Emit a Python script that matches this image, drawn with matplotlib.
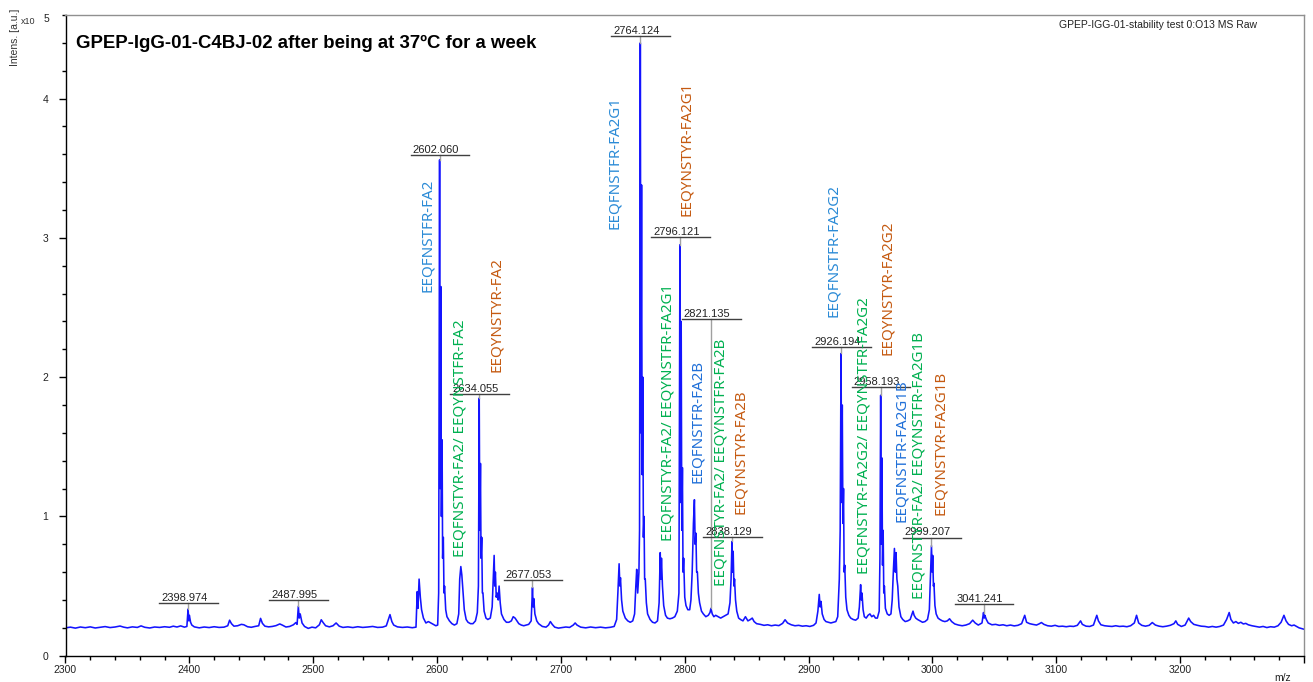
import matplotlib
matplotlib.use("Agg")
import matplotlib.pyplot as plt
from matplotlib.ticker import MultipleLocator, FixedLocator
import numpy as np

# ---------------- data (intensity in units of 1e5 a.u.) ----------------
mz = [
    2300, 2304, 2308, 2312, 2316, 2320, 2324, 2328, 2332, 2336, 2340, 2344, 2347, 2350, 2354, 2358,
    2361, 2364, 2368, 2372, 2376, 2380, 2384, 2387, 2390, 2393, 2396, 2398, 2398.974, 2399.6, 2400,
    2401, 2402, 2404, 2408, 2412, 2416, 2420, 2424, 2428, 2431, 2432.5, 2434, 2436, 2439, 2442, 2444,
    2447, 2450, 2453, 2456, 2457.5, 2459, 2461, 2464, 2467, 2470, 2473, 2475, 2478, 2481, 2484, 2486,
    2487, 2487.995, 2488.7, 2489.5, 2491, 2493, 2496, 2499, 2502, 2505, 2506.5, 2508, 2510, 2513,
    2516, 2518.5, 2521, 2524, 2528, 2532, 2536, 2540, 2544, 2548, 2552, 2556, 2559, 2562, 2563.5,
    2565, 2568, 2572, 2576, 2580, 2583, 2584, 2584.6, 2585.5, 2586.5, 2587.5, 2589, 2591, 2593, 2595,
    2597, 2599, 2600.5, 2601.3, 2602.06, 2602.5, 2603.06, 2603.5, 2604.06, 2604.5, 2605.06, 2605.6,
    2606.06, 2607, 2608, 2610, 2612, 2614, 2616, 2617.5, 2618.3, 2619.2, 2620, 2621, 2622, 2623.5,
    2625, 2627, 2629, 2631, 2632.5, 2633.4, 2634.055, 2634.5, 2635.06, 2635.5, 2636.06, 2636.6,
    2637.06, 2638, 2639.5, 2641, 2643, 2644.5, 2645.4, 2646.1, 2646.6, 2647.1, 2647.8, 2648.5, 2649.4,
    2650.1, 2651, 2652, 2654, 2656, 2658, 2660, 2661.5, 2663, 2664.5, 2666, 2668, 2670, 2672, 2674,
    2676, 2677.053, 2677.6, 2678.1, 2679, 2680.5, 2682, 2685, 2688, 2690, 2691.5, 2693, 2695, 2698,
    2701, 2704, 2707, 2710, 2711.5, 2713, 2716, 2720, 2724, 2728, 2732, 2736, 2740, 2743, 2745, 2746,
    2747, 2747.6, 2748.1, 2749, 2750, 2752, 2754, 2756, 2758, 2759.5, 2760.5, 2761.2, 2762, 2763,
    2763.5, 2764.124, 2764.6, 2765.12, 2765.6, 2766.12, 2766.6, 2767.12, 2767.6, 2768.12, 2769, 2770,
    2772, 2774, 2776, 2778, 2779.3, 2780.2, 2780.7, 2781.2, 2782, 2783, 2784.5, 2786, 2788, 2790,
    2792, 2794, 2795.3, 2796.121, 2796.6, 2797.12, 2797.6, 2798.12, 2798.6, 2799.12, 2800, 2801,
    2802.5, 2804, 2805, 2806, 2807, 2807.8, 2808.4, 2809, 2809.6, 2810.2, 2811, 2812, 2813.5, 2815,
    2817, 2819, 2820.4, 2821.135, 2822.2, 2823.5, 2825, 2827, 2829, 2831, 2833, 2835, 2836.5, 2837.4,
    2838.129, 2838.6, 2839.1, 2839.7, 2840.2, 2841, 2842, 2843.5, 2845, 2847, 2849, 2851, 2853,
    2854.5, 2856, 2858, 2861, 2864, 2867, 2870, 2873, 2876, 2879, 2881, 2883, 2886, 2889, 2892, 2895,
    2898, 2901, 2904, 2906, 2907.5, 2908.6, 2909.3, 2910, 2911, 2912.5, 2914, 2916, 2918, 2920, 2922,
    2923.5, 2924.8, 2925.5, 2926.194, 2926.7, 2927.19, 2927.7, 2928.19, 2928.7, 2929.19, 2930, 2931,
    2932.5, 2934, 2936, 2938, 2940, 2941, 2942, 2942.6, 2943.1, 2944, 2945, 2946.5, 2948, 2949.5,
    2951, 2952.5, 2954, 2955.5, 2957, 2957.6, 2958.193, 2958.7, 2959.19, 2959.7, 2960.19, 2960.7,
    2961.19, 2962, 2963.5, 2965, 2966.5, 2967.5, 2968.5, 2969.3, 2970, 2970.6, 2971.3, 2972, 2973,
    2974.5, 2976, 2978, 2980, 2982, 2983.5, 2984.3, 2985.2, 2986.5, 2988, 2990, 2992, 2994, 2996,
    2997.5, 2998.5, 2999.207, 2999.8, 3000.2, 3000.8, 3001.2, 3002, 3003, 3004.5, 3006, 3008, 3010,
    3012, 3013.8, 3015.5, 3018, 3021, 3024, 3027, 3030, 3032.5, 3034.5, 3037, 3040, 3040.6, 3041.241,
    3041.8, 3042.3, 3043.5, 3045, 3048, 3051, 3054, 3057, 3060, 3063, 3066, 3069, 3072, 3074.5, 3076,
    3078.5, 3081, 3084, 3086, 3088, 3090, 3093, 3096, 3099, 3102, 3105, 3108, 3111, 3114, 3117,
    3119.6, 3121, 3124, 3127, 3130, 3132.7, 3134, 3136, 3139, 3142, 3145, 3148, 3151, 3154, 3157,
    3160, 3163, 3164.8, 3166.5, 3169, 3172, 3175, 3177.5, 3180, 3183, 3186, 3189, 3192, 3195, 3196.5,
    3198, 3201, 3204, 3206.9, 3208.5, 3211, 3214, 3217, 3220, 3223, 3226, 3229, 3232, 3235, 3237.5,
    3239.6, 3241, 3243, 3245, 3247, 3249, 3251, 3253, 3255, 3258, 3261, 3264, 3267, 3270, 3273, 3276,
    3279, 3281.5, 3283.8, 3285.5, 3287.5, 3290, 3292, 3294, 3296, 3298, 3300,
]
intensity = [
    0.200, 0.205, 0.198, 0.206, 0.201, 0.207, 0.199, 0.204, 0.209, 0.202, 0.206, 0.213, 0.205, 0.200, 0.207, 0.203,
    0.214, 0.204, 0.199, 0.206, 0.203, 0.208, 0.204, 0.212, 0.206, 0.214, 0.205, 0.210, 0.335, 0.250, 0.290,
    0.240, 0.220, 0.207, 0.200, 0.206, 0.202, 0.208, 0.203, 0.205, 0.215, 0.255, 0.230, 0.212, 0.215, 0.225, 0.222,
    0.208, 0.204, 0.210, 0.215, 0.268, 0.232, 0.212, 0.207, 0.210, 0.216, 0.228, 0.220, 0.206, 0.210, 0.222, 0.238,
    0.225, 0.355, 0.270, 0.300, 0.235, 0.210, 0.196, 0.205, 0.200, 0.222, 0.258, 0.238, 0.215, 0.207,
    0.215, 0.235, 0.212, 0.203, 0.207, 0.202, 0.208, 0.203, 0.206, 0.210, 0.203, 0.205, 0.214, 0.295, 0.245,
    0.220, 0.207, 0.203, 0.206, 0.201, 0.205, 0.460, 0.340, 0.550, 0.420, 0.330, 0.270, 0.235, 0.245, 0.235,
    0.225, 0.215, 0.220, 0.450, 3.560, 1.200, 2.650, 1.000, 1.550, 0.700, 0.850, 0.450,
    0.500, 0.330, 0.280, 0.250, 0.230, 0.220, 0.230, 0.300, 0.550, 0.640, 0.580, 0.450, 0.330, 0.260,
    0.240, 0.230, 0.230, 0.250, 0.310, 0.500, 1.850, 0.900, 1.380, 0.700, 0.850, 0.450,
    0.450, 0.320, 0.270, 0.260, 0.270, 0.350, 0.550, 0.720, 0.500, 0.600, 0.420, 0.450, 0.400,
    0.500, 0.380, 0.300, 0.260, 0.240, 0.240, 0.250, 0.280, 0.270, 0.250, 0.230, 0.220, 0.215, 0.220, 0.225,
    0.250, 0.490, 0.350, 0.410, 0.300, 0.250, 0.230, 0.210, 0.205, 0.220, 0.245, 0.225, 0.205, 0.198,
    0.202, 0.206, 0.203, 0.220, 0.235, 0.220, 0.205, 0.200, 0.206, 0.201, 0.205, 0.200, 0.204, 0.210, 0.260, 0.450,
    0.660, 0.500, 0.560, 0.400, 0.320, 0.270, 0.250, 0.240, 0.250, 0.300, 0.500, 0.620, 0.450, 0.600,
    0.900, 4.400, 1.600, 3.380, 1.300, 2.000, 0.850, 1.000, 0.550, 0.550, 0.380, 0.300,
    0.260, 0.240, 0.235, 0.250, 0.380, 0.740, 0.550, 0.700, 0.500, 0.360, 0.290, 0.270, 0.265, 0.270,
    0.280, 0.320, 0.450, 2.950, 1.100, 2.400, 0.900, 1.350, 0.600, 0.700, 0.420, 0.360,
    0.330, 0.330, 0.400, 0.600, 0.950, 1.120, 0.800, 0.880, 0.600, 0.600, 0.450, 0.380, 0.320, 0.300,
    0.280, 0.290, 0.310, 0.340, 0.300, 0.280, 0.290, 0.280, 0.270, 0.280, 0.290, 0.300, 0.380, 0.550,
    0.820, 0.600, 0.750, 0.500, 0.550, 0.400, 0.320, 0.270, 0.260, 0.250, 0.280, 0.250, 0.260,
    0.270, 0.245, 0.230, 0.225, 0.218, 0.222, 0.215, 0.220, 0.216, 0.232, 0.258, 0.235, 0.222, 0.215, 0.218, 0.212,
    0.215, 0.210, 0.218, 0.235, 0.320, 0.440, 0.350, 0.390, 0.300, 0.260, 0.245, 0.240, 0.235, 0.240, 0.245,
    0.280, 0.550, 0.900, 2.170, 1.100, 1.800, 0.950, 1.200, 0.600, 0.650, 0.420, 0.330,
    0.290, 0.270, 0.260, 0.255, 0.270, 0.350, 0.510, 0.400, 0.450, 0.330, 0.280, 0.270, 0.290, 0.300,
    0.280, 0.290, 0.270, 0.270, 0.320, 0.700, 1.870, 0.800, 1.420, 0.650, 0.900, 0.450,
    0.500, 0.340, 0.300, 0.290, 0.300, 0.400, 0.620, 0.770, 0.600, 0.740, 0.550, 0.500, 0.350,
    0.280, 0.260, 0.245, 0.250, 0.260, 0.300, 0.320, 0.290, 0.270, 0.260, 0.250, 0.240, 0.245, 0.260,
    0.330, 0.600, 0.790, 0.600, 0.720, 0.500, 0.520, 0.360, 0.300, 0.270, 0.260, 0.250, 0.245,
    0.250, 0.265, 0.245, 0.228, 0.220, 0.215, 0.220, 0.230, 0.255, 0.235, 0.220, 0.235, 0.270, 0.310,
    0.270, 0.290, 0.260, 0.235, 0.222, 0.225, 0.218, 0.222, 0.215, 0.220, 0.214, 0.218, 0.230, 0.290, 0.240,
    0.230, 0.225, 0.220, 0.228, 0.238, 0.225, 0.215, 0.212, 0.218, 0.210, 0.212, 0.208, 0.212, 0.210, 0.218,
    0.250, 0.225, 0.212, 0.210, 0.220, 0.290, 0.250, 0.222, 0.215, 0.212, 0.210, 0.215, 0.210, 0.212, 0.208,
    0.215, 0.235, 0.290, 0.235, 0.218, 0.212, 0.218, 0.238, 0.220, 0.212, 0.208, 0.212, 0.218, 0.230, 0.250,
    0.225, 0.210, 0.220, 0.270, 0.245, 0.225, 0.218, 0.212, 0.210, 0.205, 0.210, 0.205, 0.210, 0.220, 0.260,
    0.310, 0.260, 0.235, 0.245, 0.232, 0.240, 0.228, 0.232, 0.222, 0.215, 0.210, 0.205, 0.210, 0.202, 0.208, 0.205,
    0.215, 0.240, 0.290, 0.250, 0.225, 0.215, 0.220, 0.210, 0.200, 0.195, 0.190,
]

# labelled peaks
peak_labels = ["2398.974", "2487.995", "2602.060", "2634.055", "2677.053", "2764.124", "2796.121",
               "2821.135", "2838.129", "2926.194", "2958.193", "2999.207", "3041.241"]
peak_mz = [2398.974, 2487.995, 2602.060, 2634.055, 2677.053, 2764.124, 2796.121,
           2821.135, 2838.129, 2926.194, 2958.193, 2999.207, 3041.241]

# glycopeptide annotations
glycan_names = [
    "EEQFNSTFR-FA2",
    "EEQFNSTYR-FA2/ EEQYNSTFR-FA2",
    "EEQYNSTYR-FA2",
    "EEQFNSTFR-FA2G1",
    "EEQYNSTYR-FA2G1",
    "EEQFNSTYR-FA2/ EEQYNSTFR-FA2G1",
    "EEQFNSTFR-FA2B",
    "EEQFNSTYR-FA2/ EEQYNSTFR-FA2B",
    "EEQYNSTYR-FA2B",
    "EEQFNSTFR-FA2G2",
    "EEQFNSTYR-FA2G2/ EEQYNSTFR-FA2G2",
    "EEQYNSTYR-FA2G2",
    "EEQFNSTFR-FA2G1B",
    "EEQFNSTYR-FA2/ EEQYNSTFR-FA2G1B",
    "EEQYNSTYR-FA2G1B",
]
glycan_kind = ["FF", "mix", "YY", "FF", "YY", "mix", "FFB", "mix", "YY",
               "FF", "mix", "YY", "FFB", "mix", "YY"]

# ---------------- layout (positions, not data) ----------------
label_level = [0.376, 0.40, 3.594, 1.879, 0.543, 4.451, 3.004, 2.418, 0.852, 2.218, 1.929, 0.847, 0.371]
glycan_x = [2592.3, 2618.5, 2647.6, 2742.9, 2801.8, 2786.1, 2810.3, 2829.3, 2845.4,
            2920.5, 2944.7, 2963.7, 2975.0, 2989.1, 3006.1]
glycan_y = [2.61, 0.71, 2.04, 3.06, 3.16, 0.82, 1.24, 0.50, 1.02,
            2.43, 0.59, 2.16, 0.96, 0.41, 1.01]
kind_color = {"FF": "#2a8ad6", "FFB": "#1f6fd8", "YY": "#c55a11", "mix": "#00b050"}

W, H = 1313, 682
fig = plt.figure(figsize=(W / 100, H / 100), dpi=100)
left, right, bottom, top = 65.5, 1304, 655.7, 15
ax = fig.add_axes([left / W, 1 - bottom / H, (right - left) / W, (bottom - top) / H])

ax.plot(mz, intensity, color="#1414ff", lw=1.15, zorder=2)
ax.set_xlim(2300, 3300)
ax.set_ylim(0, 4.6)

for lab, pm, uy in zip(peak_labels, peak_mz, label_level):
    apex = float(np.interp(pm, mz, intensity))
    ax.plot([pm, pm], [apex, uy], color="#a0a0a0", lw=1.0, zorder=3)
    ax.plot([pm - 23.3, pm + 24.0], [uy, uy], color="#404040", lw=1.0, zorder=3)
    ax.text(pm - 21.8, uy + 0.016, lab, fontsize=8, family="Liberation Sans",
            color="#222222", ha="left", va="baseline", zorder=4)

for name, kind, gx, gy in zip(glycan_names, glycan_kind, glycan_x, glycan_y):
    ax.text(gx, gy, name, rotation=90, ha="center", va="bottom", fontsize=10.9,
            family="Noto Sans", color=kind_color[kind], zorder=5)

# axes styling
for s in ("top", "right"):
    ax.spines[s].set_color("#909090")
for s in ("left", "bottom"):
    ax.spines[s].set_color("#000000")
for s in ax.spines.values():
    s.set_linewidth(1.0)

xt = list(range(2300, 3301, 100))
ax.set_xticks(xt)
ax.set_xticklabels([str(v) if v < 3300 else "" for v in xt])
ax.xaxis.set_minor_locator(MultipleLocator(20))
ax.yaxis.set_major_locator(FixedLocator([0, 1, 2, 3, 4]))
ax.yaxis.set_minor_locator(MultipleLocator(0.2))
ax.tick_params(axis="both", which="major", direction="out", length=5, width=1,
               labelsize=7.5, labelcolor="#222222", labelfontfamily="Liberation Sans")
ax.tick_params(axis="both", which="minor", direction="out", length=3.2, width=1)
ax.tick_params(axis="x", which="major", pad=1.5)
ax.tick_params(axis="y", which="major", pad=7.5)

# texts
fig.text(76 / W, 1 - 43 / H, "GPEP-IgG-01-C4BJ-02 after being at 37ºC for a week",
         fontsize=13.4, fontweight="bold", family="Liberation Sans", ha="left", va="center")
fig.text(1257 / W, 1 - 25 / H, "GPEP-IGG-01-stability test 0:O13 MS Raw",
         fontsize=7.5, family="Liberation Sans", ha="right", va="center", color="#222222")
fig.text(15 / W, 1 - 37 / H, "Intens. [a.u.]", rotation=90, fontsize=7.5,
         family="Liberation Sans", ha="center", va="center", color="#333333")
fig.text(21 / W, 1 - 22 / H, "x10", fontsize=6.5, family="Liberation Sans",
         ha="left", va="center", color="#333333")
fig.text(49 / W, 1 - 19 / H, "5", fontsize=7.5, family="Liberation Sans",
         ha="right", va="center", color="#222222")
fig.text(1283 / W, 1 - 678 / H, "m/z", fontsize=7.5, family="Liberation Sans",
         ha="center", va="center", color="#222222")

fig.savefig("out.png", dpi=100)
